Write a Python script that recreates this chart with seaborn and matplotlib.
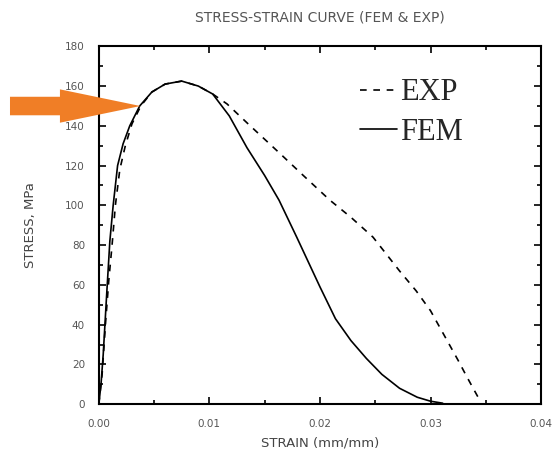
import numpy as np
import pandas as pd
import matplotlib
matplotlib.use("Agg")
import matplotlib.pyplot as plt
from matplotlib.patches import FancyArrow
from matplotlib.ticker import MultipleLocator, FormatStrFormatter
import seaborn as sns

# values
fem_strain = [0, 0.0002, 0.0004, 0.0007, 0.0010, 0.0013, 0.0017, 0.0022, 0.0028, 0.0037,
              0.0048, 0.0060, 0.0075, 0.0090, 0.0103, 0.0118, 0.0134, 0.0150, 0.0163,
              0.0179, 0.0200, 0.0214, 0.0228, 0.0242, 0.0256, 0.0272, 0.0288, 0.0300, 0.0311]
fem_stress = [0, 10, 25, 54, 82, 100, 120, 131, 140, 150,
              157, 161, 162.5, 160, 156, 145, 129, 115, 102.6,
              84, 59, 43, 32, 23, 15, 8, 3.5, 1.5, 0.5]

exp_strain = [0, 0.0003, 0.0006, 0.0009, 0.0012, 0.0015, 0.0019, 0.0024, 0.0030, 0.0038,
              0.0048, 0.0060, 0.0075, 0.0090, 0.0103, 0.0116, 0.0135, 0.0164, 0.0185,
              0.0209, 0.0228, 0.0248, 0.0272, 0.0287, 0.0300, 0.0315, 0.0325, 0.0333, 0.0343]
exp_stress = [0, 15, 40, 62, 80, 100, 118, 130, 141, 150,
              157, 161, 162.5, 160, 156, 151, 141, 126, 115,
              102.6, 94, 84, 67, 57, 47, 32, 22, 13.6, 3.5]

sns.set_style("ticks")
fig = plt.figure(figsize=(5.55, 4.63), dpi=100)
ax = fig.add_axes([0.178, 0.127, 0.797, 0.773])

exp_df = pd.DataFrame({"strain": exp_strain, "stress": exp_stress})
fem_df = pd.DataFrame({"strain": fem_strain, "stress": fem_stress})
sns.lineplot(data=exp_df, x="strain", y="stress", ax=ax, color="black", lw=1.2,
             label="EXP", sort=False)
sns.lineplot(data=fem_df, x="strain", y="stress", ax=ax, color="black", lw=1.2,
             label="FEM", sort=False)
ax.lines[0].set_dashes((4, 4))

ax.set_xlim(0, 0.04)
ax.set_ylim(0, 180)
ax.xaxis.set_major_locator(MultipleLocator(0.01))
ax.xaxis.set_minor_locator(MultipleLocator(0.005))
ax.yaxis.set_major_locator(MultipleLocator(20))
ax.yaxis.set_minor_locator(MultipleLocator(10))
ax.xaxis.set_major_formatter(FormatStrFormatter("%.2f"))
ax.tick_params(which="both", direction="in", top=True, right=True,
               labeltop=False, labelright=False, width=1.2, color="black")
ax.tick_params(which="major", length=5, labelsize=7.5, labelcolor="#555555")
ax.tick_params(axis="x", which="major", pad=11)
ax.tick_params(axis="y", which="major", pad=10)
ax.tick_params(which="minor", length=3)
for sp in ax.spines.values():
    sp.set_linewidth(1.5)
    sp.set_color("black")

ax.set_xlabel("STRAIN (mm/mm)", fontsize=9.5, color="#444444", labelpad=5)
ax.set_ylabel("STRESS, MPa", fontsize=9.5, color="#444444", labelpad=20)
ax.set_title("STRESS-STRAIN CURVE (FEM & EXP)", fontsize=10, color="#555555", pad=18)

leg = ax.legend(loc="upper left", bbox_to_anchor=(0.528, 0.987), frameon=False,
                handlelength=1.2, handletextpad=0.1, labelspacing=0.35,
                prop={"family": "Liberation Serif", "size": 22})

# orange arrow pointing at the curve
fig.patches.append(FancyArrow(0.018, 0.771, 0.235, 0, width=0.040, head_width=0.072,
                              head_length=0.145, length_includes_head=True,
                              color="#F07E26", ec="none", transform=fig.transFigure,
                              figure=fig))

fig.savefig("out.png", dpi=100)
